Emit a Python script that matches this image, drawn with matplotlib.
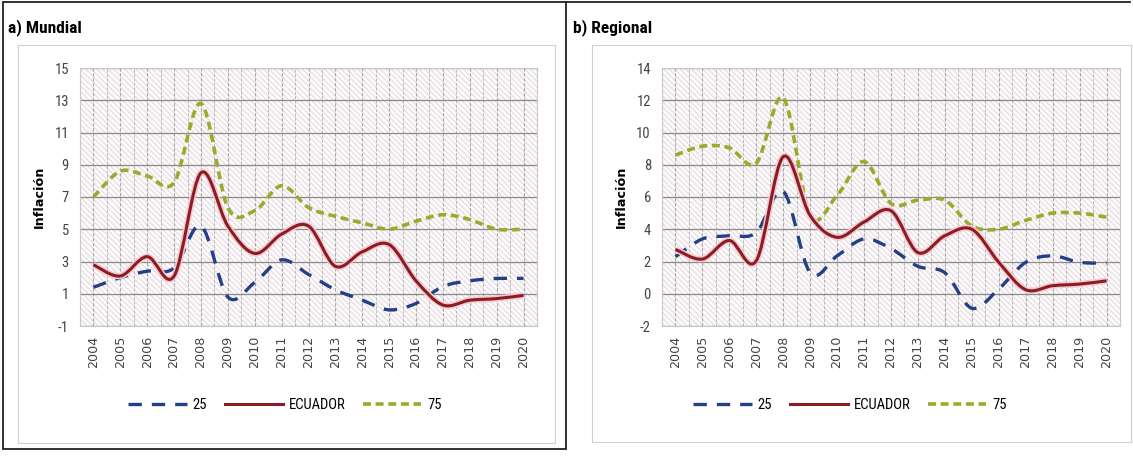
import matplotlib.pyplot as plt
from matplotlib.path import Path
from matplotlib.patches import PathPatch, Rectangle
from matplotlib.lines import Line2D
import matplotlib.patheffects as pe

years = list(range(2004, 2021))

# a) Mundial
mundial_p25 = [1.4, 2.0, 2.4, 2.6, 5.2, 0.8, 1.7, 3.1, 2.2, 1.25, 0.6, 0.0, 0.4, 1.45, 1.8, 1.95, 1.95]
mundial_ecu = [2.8, 2.1, 3.3, 2.1, 8.5, 5.2, 3.5, 4.7, 5.2, 2.7, 3.6, 4.05, 1.8, 0.3, 0.6, 0.7, 0.9]
mundial_p75 = [7.0, 8.6, 8.3, 7.9, 12.8, 6.35, 6.15, 7.7, 6.35, 5.8, 5.4, 5.0, 5.5, 5.9, 5.6, 5.0, 5.0]

# b) Regional
regional_p25 = [2.3, 3.4, 3.6, 3.8, 6.35, 1.3, 2.35, 3.4, 2.8, 1.7, 1.3, -0.9, 0.3, 1.95, 2.35, 1.95, 1.9]
regional_ecu = [2.75, 2.15, 3.3, 2.05, 8.5, 4.85, 3.5, 4.45, 5.15, 2.55, 3.6, 4.0, 1.95, 0.25, 0.5, 0.6, 0.8]
regional_p75 = [8.6, 9.15, 9.05, 8.1, 12.15, 4.85, 6.1, 8.2, 5.6, 5.8, 5.8, 4.2, 4.0, 4.55, 5.0, 5.0, 4.75]

legend_labels = ["25", "ECUADOR", "75"]

BLUE = "#243f86"
RED = "#8c1c24"
GREEN = "#9aab2c"
FW, FH = 1133, 458
NARROW = ["Liberation Sans Narrow", "DejaVu Sans Condensed", "Roboto Condensed", "Roboto", "DejaVu Sans"]
WIDE = ["DejaVu Sans"]


def smooth_path(x, y):
    # Excel-style smoothed line as cubic Bezier segments through the data points
    verts = [(x[0], y[0])]
    codes = [Path.MOVETO]
    n = len(x)
    for i in range(n - 1):
        x0, y0 = (x[i - 1], y[i - 1]) if i > 0 else (x[i], y[i])
        x3, y3 = (x[i + 2], y[i + 2]) if i + 2 < n else (x[i + 1], y[i + 1])
        c1 = (x[i] + (x[i + 1] - x0) / 6, y[i] + (y[i + 1] - y0) / 6)
        c2 = (x[i + 1] - (x3 - x[i]) / 6, y[i + 1] - (y3 - y[i]) / 6)
        verts += [c1, c2, (x[i + 1], y[i + 1])]
        codes += [Path.CURVE4] * 3
    return Path(verts, codes)


def draw_panel(ax, p25, ecu, p75, ymin, ymax):
    ax.set_xlim(years[0] - 0.5, years[-1] + 0.5)
    ax.set_ylim(ymin, ymax)
    ax.patch.set_facecolor("#fdfbfc")
    ax.patch.set_hatch("\\\\\\\\\\\\")
    ax.patch.set_edgecolor("#e8e0e4")
    ax.patch.set_linewidth(0)
    for s in ax.spines.values():
        s.set_color("#c8c8c8")
        s.set_linewidth(0.8)

    ax.set_yticks(range(ymin, ymax + 1, 2))
    ax.set_xticks(years)
    ax.set_xticks([y + 0.5 for y in years[:-1]], minor=True)
    ax.set_xticklabels([str(y) for y in years], rotation=90, fontsize=9.2,
                       color="#444444", family=WIDE)
    for t in ax.get_yticklabels():
        t.set_fontsize(10.5)
        t.set_color("#444444")
    ax.tick_params(axis="y", length=0, pad=8)
    ax.tick_params(axis="x", which="both", length=0, pad=7)
    ax.grid(axis="y", color="#8a8a8a", linewidth=0.9)
    ax.grid(axis="x", which="major", color="#a8a8a8", linewidth=0.8, linestyle=(0, (3, 1.5)))
    ax.grid(axis="x", which="minor", color="#b8b8b8", linewidth=0.7, linestyle=(0, (3, 1.5)))
    ax.set_axisbelow(True)

    glow = [pe.Stroke(linewidth=4.5, foreground="#f2c9cf"), pe.Normal()]
    ax.add_patch(PathPatch(smooth_path(years, p75), fill=False, edgecolor=GREEN,
                           linewidth=2.6, linestyle=(0, (2.2, 1.3)), zorder=3))
    ax.add_patch(PathPatch(smooth_path(years, p25), fill=False, edgecolor=BLUE,
                           linewidth=2.4, linestyle=(0, (4, 3)), zorder=3))
    ax.add_patch(PathPatch(smooth_path(years, ecu), fill=False, edgecolor=RED,
                           linewidth=2.2, zorder=4, path_effects=glow))
    ax.set_ylabel("Inflación", fontsize=9.2, fontweight="bold", labelpad=6, family=WIDE)


plt.rcParams["font.family"] = NARROW
plt.rcParams["axes.unicode_minus"] = False
fig = plt.figure(figsize=(FW / 100, FH / 100), dpi=100)
fig.patch.set_facecolor("white")

ax1 = fig.add_axes([80 / FW, 1 - 326 / FH, 457 / FW, 258 / FH])
ax2 = fig.add_axes([662 / FW, 1 - 326 / FH, 458 / FW, 258 / FH])
draw_panel(ax1, mundial_p25, mundial_ecu, mundial_p75, -1, 15)
draw_panel(ax2, regional_p25, regional_ecu, regional_p75, -2, 14)

fig.text(8 / FW, 1 - 28 / FH, "a) Mundial", fontsize=12.5, fontweight="bold", va="center")
fig.text(573 / FW, 1 - 28 / FH, "b) Regional", fontsize=12.5, fontweight="bold", va="center")

handles = [
    Line2D([], [], color=BLUE, linewidth=2.4, linestyle=(0, (4, 3))),
    Line2D([], [], color=RED, linewidth=2.2),
    Line2D([], [], color=GREEN, linewidth=2.6, linestyle=(0, (2.2, 1.3))),
]
for cx in (285, 850):
    fig.legend(handles, legend_labels, loc="center", ncol=3, frameon=False,
               bbox_to_anchor=(cx / FW, 1 - 405 / FH), fontsize=10.5,
               handlelength=4, columnspacing=1.2, handletextpad=0.4)


def frame(x0, y0, x1, y1, color, lw):
    fig.add_artist(Rectangle((x0 / FW, 1 - y1 / FH), (x1 - x0) / FW, (y1 - y0) / FH,
                             transform=fig.transFigure, fill=False,
                             edgecolor=color, linewidth=lw))


# outer and chart-area borders
frame(3, 2, 566, 449, "#222222", 1.3)
fig.add_artist(Line2D([566 / FW, 1130 / FW], [1 - 2 / FH, 1 - 2 / FH],
                      transform=fig.transFigure, color="#222222", linewidth=1.3))
frame(18, 45, 555, 443, "#d0d0d0", 0.8)
frame(592, 45, 1131, 442, "#d0d0d0", 0.8)

fig.savefig("out.png", dpi=100)
